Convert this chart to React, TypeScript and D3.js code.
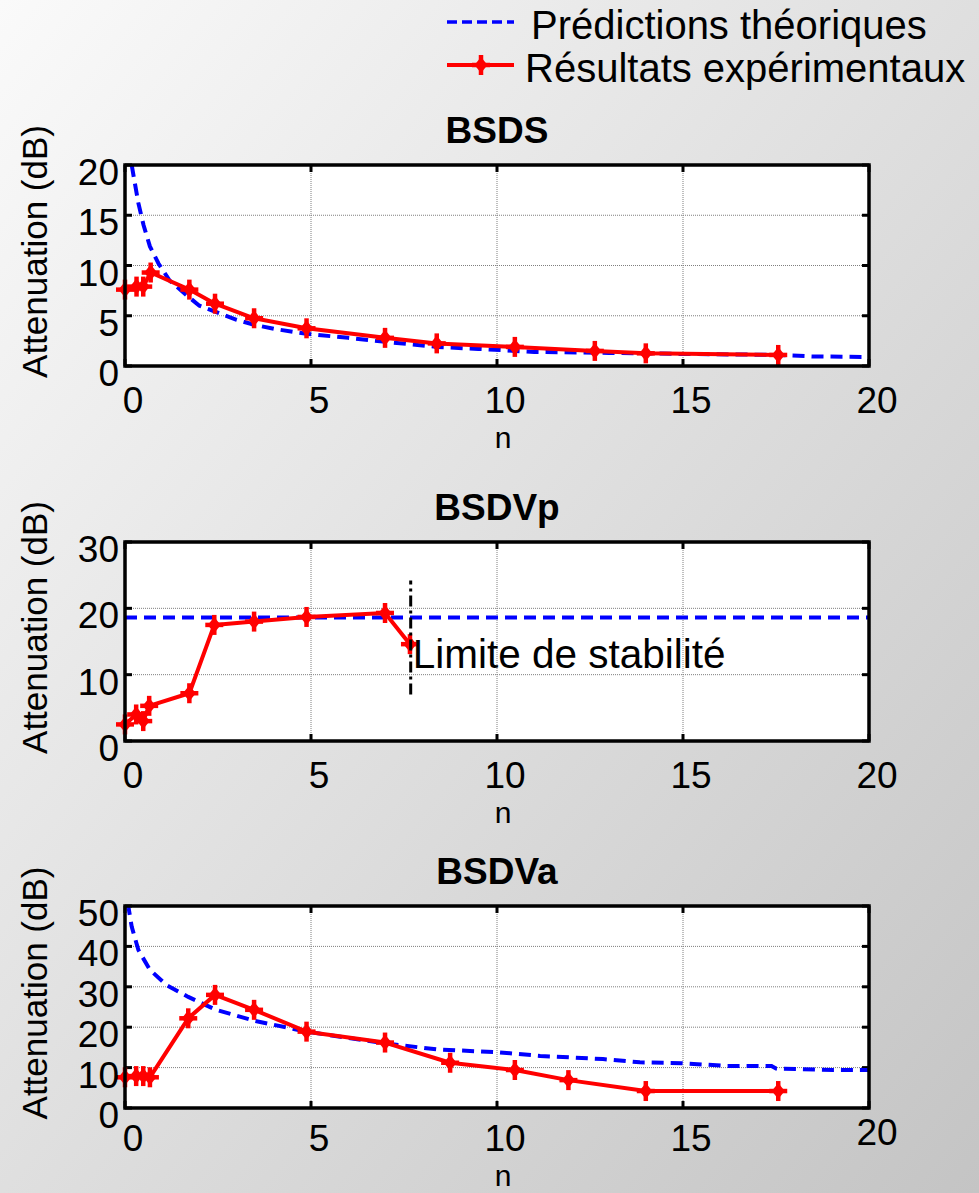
import React from "react";
import * as d3 from "d3";

// ---------- DATA ----------
const xTicks = [0, 5, 10, 15, 20];

const titles = ["BSDS", "BSDVp", "BSDVa"];
const legendLabels = ["Prédictions théoriques", "Résultats expérimentaux"];
const yLabel = "Attenuation (dB)";
const xLabel = "n";
const stabilityLabel = "Limite de stabilité";

// BSDS
const bsdsYTicks = [0, 5, 10, 15, 20];
const bsdsThN = [0.18, 0.25, 0.36, 0.5, 0.67, 0.9, 1.2, 1.7, 2.0, 2.42, 3.0, 3.47, 4.0, 4.88, 6.0, 7.0, 8.4, 9.5, 10.5, 11.0, 13.0, 15.0, 17.56, 18.5, 20];
const bsdsThV = [20, 18.5, 16.2, 14, 11.9, 10.2, 8.5, 6.9, 6.0, 5.4, 4.6, 4.1, 3.7, 3.2, 2.8, 2.4, 1.9, 1.7, 1.5, 1.4, 1.3, 1.2, 1.1, 0.95, 0.9];
const bsdsExpN = [0, 0.31, 0.49, 0.69, 1.73, 2.42, 3.47, 4.88, 6.99, 8.38, 10.48, 12.63, 14.0, 17.56];
const bsdsExpV = [7.6, 7.9, 7.9, 9.3, 7.6, 6.2, 4.75, 3.75, 2.8, 2.25, 1.9, 1.5, 1.26, 1.1];

// BSDVp
const bsdvpYTicks = [0, 10, 20, 30];
const bsdvpThN = [0, 20];
const bsdvpThV = [18.6, 18.6];
const bsdvpExpN = [0, 0.3, 0.49, 0.65, 1.73, 2.4, 3.47, 4.88, 6.99, 7.66];
const bsdvpExpV = [2.5, 4.0, 3.0, 5.3, 7.2, 17.5, 18.0, 18.7, 19.3, 14.6];
const stabilityN = 7.68;
const stabilityRange = [7.0, 24.2];
const stabilityTextV = 11;

// BSDVa
const bsdvaYTicks = [0, 10, 20, 30, 40, 50];
const bsdvaThN = [0.0, 0.09, 0.18, 0.36, 0.67, 1.12, 1.7, 2.42, 3.47, 4.88, 6.99, 8.38, 10.03, 11.16, 12.85, 13.84, 14.96, 16.17, 17.38, 17.5, 19.04, 20];
const bsdvaThV = [50, 49.9, 44.9, 39.1, 34.2, 30.4, 27.5, 24.4, 21.6, 18.9, 16.0, 14.5, 13.8, 12.9, 12.1, 11.3, 11.1, 10.4, 10.4, 9.8, 9.4, 9.4];
const bsdvaExpN = [0, 0.3, 0.49, 0.67, 1.7, 2.42, 3.47, 4.88, 6.99, 8.74, 10.48, 11.92, 14.0, 17.56];
const bsdvaExpV = [7.6, 7.9, 7.9, 7.6, 22.2, 28.0, 24.3, 18.9, 16.2, 11.2, 9.4, 6.9, 4.2, 4.2];

// ---------- LAYOUT ----------
const W = 979;
const H = 1193;
const LEFT = 125;
const RIGHT = 869;
const FONT = "'Liberation Sans', Arial, Helvetica, sans-serif";
const BLUE = "#0000ff";
const RED = "#ff0000";

type Panel = {
  title: string;
  top: number;
  bottom: number;
  yMax: number;
  yTicks: number[];
  thN: number[];
  thV: number[];
  expN: number[];
  expV: number[];
  tickGap: number;
  raiseLast?: boolean;
  stability?: boolean;
};

const panels: Panel[] = [
  { title: titles[0], top: 165, bottom: 366, yMax: 20, yTicks: bsdsYTicks, thN: bsdsThN, thV: bsdsThV, expN: bsdsExpN, expV: bsdsExpV, tickGap: 47 },
  { title: titles[1], top: 542, bottom: 741, yMax: 30, yTicks: bsdvpYTicks, thN: bsdvpThN, thV: bsdvpThV, expN: bsdvpExpN, expV: bsdvpExpV, tickGap: 47, stability: true },
  { title: titles[2], top: 906, bottom: 1108, yMax: 50, yTicks: bsdvaYTicks, thN: bsdvaThN, thV: bsdvaThV, expN: bsdvaExpN, expV: bsdvaExpV, tickGap: 43, raiseLast: true },
];

function Marker({ x, y }: { x: number; y: number }) {
  return (
    <g>
      <line x1={x - 9} x2={x + 9} y1={y} y2={y} stroke={RED} strokeWidth={4.5} />
      <line x1={x} x2={x} y1={y - 10} y2={y + 10} stroke={RED} strokeWidth={4.5} />
      <path d={`M${x},${y - 8} L${x + 6.5},${y} L${x},${y + 8} L${x - 6.5},${y} Z`} fill={RED} />
    </g>
  );
}

function PanelView({ p, idx }: { p: Panel; idx: number }) {
  const x = d3.scaleLinear().domain([0, 20]).range([LEFT, RIGHT]);
  const y = d3.scaleLinear().domain([0, p.yMax]).range([p.bottom, p.top]);
  const line = d3
    .line<[number, number]>()
    .x((d) => x(d[0]))
    .y((d) => y(d[1]));
  const th = p.thN.map((n, i) => [n, p.thV[i]] as [number, number]);
  const ex = p.expN.map((n, i) => [n, p.expV[i]] as [number, number]);
  const clipId = `clip${idx}`;
  const tl = 7;
  return (
    <g>
      <defs>
        <clipPath id={clipId}>
          <rect x={LEFT} y={p.top} width={RIGHT - LEFT} height={p.bottom - p.top} />
        </clipPath>
      </defs>
      <rect x={LEFT} y={p.top} width={RIGHT - LEFT} height={p.bottom - p.top} fill="#fff" />
      {/* grid */}
      {xTicks.slice(1, -1).map((t) => (
        <line key={"gx" + t} x1={x(t)} x2={x(t)} y1={p.top} y2={p.bottom} stroke="#7f7f7f" strokeWidth={1} strokeDasharray="1,1" />
      ))}
      {p.yTicks.slice(1, -1).map((t) => (
        <line key={"gy" + t} x1={LEFT} x2={RIGHT} y1={y(t)} y2={y(t)} stroke="#7f7f7f" strokeWidth={1} strokeDasharray="1,1" />
      ))}
      {/* ticks inside */}
      {xTicks.map((t) => (
        <g key={"tx" + t}>
          <line x1={x(t)} x2={x(t)} y1={p.bottom} y2={p.bottom - tl} stroke="#000" strokeWidth={3} />
          <line x1={x(t)} x2={x(t)} y1={p.top} y2={p.top + tl} stroke="#000" strokeWidth={3} />
        </g>
      ))}
      {p.yTicks.map((t) => (
        <g key={"ty" + t}>
          <line x1={LEFT} x2={LEFT + tl} y1={y(t)} y2={y(t)} stroke="#000" strokeWidth={3} />
          <line x1={RIGHT} x2={RIGHT - tl} y1={y(t)} y2={y(t)} stroke="#000" strokeWidth={3} />
        </g>
      ))}
      {/* data */}
      <g clipPath={`url(#${clipId})`}>
        <path d={line(th) || ""} fill="none" stroke={BLUE} strokeWidth={4} strokeDasharray="12,7" />
      </g>
      <path d={line(ex) || ""} fill="none" stroke={RED} strokeWidth={4} strokeLinejoin="round" />
      {ex.map((d, i) => (
        <Marker key={i} x={x(d[0])} y={y(d[1])} />
      ))}
      {p.stability && (
        <g>
          <line
            x1={x(stabilityN)}
            x2={x(stabilityN)}
            y1={y(stabilityRange[0])}
            y2={y(stabilityRange[1])}
            stroke="#000"
            strokeWidth={3}
            strokeDasharray="11,4,3,4"
          />
          <text x={x(stabilityN) + 2} y={y(stabilityTextV)} fontFamily={FONT} fontSize={40.5} fill="#000">
            {stabilityLabel}
          </text>
        </g>
      )}
      {/* box */}
      <rect x={LEFT} y={p.top} width={RIGHT - LEFT} height={p.bottom - p.top} fill="none" stroke="#000" strokeWidth={3.5} />
      {/* tick labels */}
      {xTicks.map((t, i) => (
        <text
          key={"lx" + t}
          x={x(t) + 8}
          y={p.bottom + p.tickGap - (p.raiseLast && i === xTicks.length - 1 ? 6 : 0)}
          textAnchor="middle"
          fontFamily={FONT}
          fontSize={37}
          fill="#000"
        >
          {t}
        </text>
      ))}
      {p.yTicks.map((t) => (
        <text key={"ly" + t} x={LEFT - 6} y={y(t) + 20} textAnchor="end" fontFamily={FONT} fontSize={37} fill="#000">
          {t}
        </text>
      ))}
      {/* title */}
      <text x={(LEFT + RIGHT) / 2} y={p.top - 22} textAnchor="middle" fontFamily={FONT} fontWeight="bold" fontSize={37} fill="#000">
        {p.title}
      </text>
      {/* x label */}
      <text x={(LEFT + RIGHT) / 2 + 6} y={Math.min(p.bottom + 82, H - 7)} textAnchor="middle" fontFamily={FONT} fontSize={30} fill="#000">
        {xLabel}
      </text>
      {/* y label */}
      <text
        transform={`translate(47,${(p.top + p.bottom) / 2 - 14}) rotate(-90)`}
        textAnchor="middle"
        fontFamily={FONT}
        fontSize={35}
        fill="#000"
      >
        {yLabel}
      </text>
    </g>
  );
}

export default function App() {
  return (
    <svg width={W} height={H} style={{ position: "absolute", left: 0, top: 0 }}>
      <defs>
        <linearGradient id="bg" x1="0" y1="0" x2="1" y2="1">
          <stop offset="0%" stopColor="#fafafa" />
          <stop offset="100%" stopColor="#c4c4c4" />
        </linearGradient>
      </defs>
      <rect x={0} y={0} width={W} height={H} fill="url(#bg)" />
      {/* legend */}
      <g>
        <line x1={447} x2={514} y1={22} y2={22} stroke={BLUE} strokeWidth={3.5} strokeDasharray="10,5" />
        <text x={531} y={39} fontFamily={FONT} fontSize={40} fill="#000">
          {legendLabels[0]}
        </text>
        <line x1={447} x2={514} y1={65} y2={65} stroke={RED} strokeWidth={4} />
        <Marker x={481} y={65} />
        <text x={525} y={82} fontFamily={FONT} fontSize={40} fill="#000">
          {legendLabels[1]}
        </text>
      </g>
      {panels.map((p, i) => (
        <PanelView key={i} p={p} idx={i} />
      ))}
    </svg>
  );
}
